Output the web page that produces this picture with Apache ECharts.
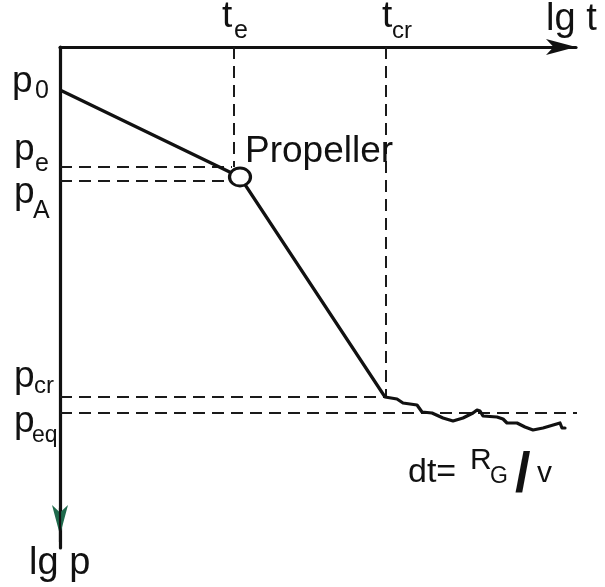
<!DOCTYPE html>
<html>
<head>
<meta charset="utf-8">
<script src="https://cdn.jsdelivr.net/npm/echarts@6/dist/echarts.min.js"></script>
<style>
html,body{margin:0;padding:0;background:#fff;}
#main{width:605px;height:587px;}
</style>
</head>
<body>
<div id="main"></div>
<script>
// Units: x = lg t (to the right), y = lg p (downwards), origin at the axes corner.
const declinePath = [[0, 43], [180, 130], [325, 350]];
const plateauPath = [[325, 350], [327, 351], [337, 352], [343, 356], [357, 358], [362, 365], [372, 366],
  [383, 371], [393, 374], [403, 371], [413, 366], [417, 363], [420, 364], [423, 369], [437, 370],
  [443, 372], [447, 376], [457, 376], [465, 380], [473, 383], [483, 381], [500, 376], [502, 381], [505, 381]];
const propellerPoint = [180, 130];

// guide (dashed) lines
const timeMarks = [174, 326];          // t_e, t_cr
const timeMarkEnds = [120, 350];
const pressureMarks = [120, 134, 350, 366];   // p_e, p_A, p_cr, p_eq
const pressureMarkEnds = [172, 172, 325, 525];

// labels: [text, x, y(center), fontSize, weight]
const labelTexts = [
  ['lg t', 486, -27, 38],
  ['t', 162, -30, 37], ['e', 174, -16, 25],
  ['t', 322, -30, 37], ['cr', 332, -16, 24],
  ['p', -48, 35, 37], ['0', -25, 44, 25],
  ['p', -46, 103, 37], ['e', -25, 117, 25],
  ['p', -46, 146, 37], ['A', -27, 164, 25],
  ['p', -46, 330, 37], ['cr', -26, 339, 24],
  ['p', -46, 375, 37], ['eq', -28, 389, 23],
  ['Propeller', 185, 105, 37],
  ['dt=', 348, 426, 34], ['R', 410, 414, 30], ['G', 430, 430, 23], ['/', 455, 429, 56, 'bold'], ['v', 477, 427, 30],
  ['lg p', -31, 517, 38]
];

const X_MAX = 516, Y_MAX = 501;
const ink = '#111';
const dash = [12, 7];

const series = [];
timeMarks.forEach((x, i) => {
  series.push({type: 'line', data: [[x, 0], [x, timeMarkEnds[i]]], symbol: 'none', silent: true, clip: false,
    lineStyle: {color: '#1a1a1a', width: 2, type: dash}, z: 1});
});
pressureMarks.forEach((y, i) => {
  series.push({type: 'line', data: [[0, y], [pressureMarkEnds[i], y]], symbol: 'none', silent: true, clip: false,
    lineStyle: {color: '#1a1a1a', width: 2, type: dash}, z: 1});
});
series.push({type: 'line', data: declinePath, symbol: 'none', clip: false,
  lineStyle: {color: ink, width: 3.2, join: 'round'}, z: 3});
series.push({type: 'line', data: plateauPath, symbol: 'none', clip: false,
  lineStyle: {color: ink, width: 3.2, join: 'round', cap: 'round'}, z: 3});
series.push({type: 'scatter', data: [propellerPoint], symbol: 'circle', symbolSize: [21, 18], clip: false,
  itemStyle: {color: '#fff', borderColor: ink, borderWidth: 3, opacity: 1}, z: 5});
// arrow head at the end of the lg p axis
series.push({type: 'scatter', data: [[0, Y_MAX - 13]], symbol: 'arrow', symbolSize: [12, 30], symbolRotate: 180, clip: false,
  itemStyle: {color: '#1f6a4c', opacity: 1}, z: 4});
series.push({type: 'line', data: [[0, Y_MAX - 40], [0, Y_MAX - 6]], symbol: 'none', clip: false,
  lineStyle: {color: ink, width: 2.2}, z: 6});

const option = {
  animation: false,
  backgroundColor: '#fff',
  grid: {left: 60, top: 47, width: X_MAX, height: Y_MAX, containLabel: false},
  xAxis: {
    type: 'value', position: 'top', min: 0, max: X_MAX,
    axisLine: {show: true, onZero: false, symbol: ['none', 'arrow'], symbolSize: [12, 30],
      lineStyle: {color: ink, width: 3.2}},
    axisTick: {show: false}, axisLabel: {show: false}, splitLine: {show: false}
  },
  yAxis: {
    type: 'value', inverse: true, min: 0, max: Y_MAX,
    axisLine: {show: true, onZero: false, lineStyle: {color: ink, width: 3.2}},
    axisTick: {show: false}, axisLabel: {show: false}, splitLine: {show: false}
  },
  series: series
};

const chart = echarts.init(document.getElementById('main'), null, {renderer: 'canvas'});
chart.setOption(option);

const graphics = labelTexts.map(([text, x, y, size, weight]) => {
  const p = chart.convertToPixel({gridIndex: 0}, [x, y]);
  return {
    type: 'text', x: p[0], y: p[1], z: 10, silent: true,
    style: {
      text: text, fill: ink,
      font: (weight || 'normal') + ' ' + size + 'px "Liberation Sans", Arial, Helvetica, sans-serif',
      align: 'left', verticalAlign: 'middle', textAlign: 'left', textVerticalAlign: 'middle'
    }
  };
});
chart.setOption({graphic: graphics});
</script>
</body>
</html>
